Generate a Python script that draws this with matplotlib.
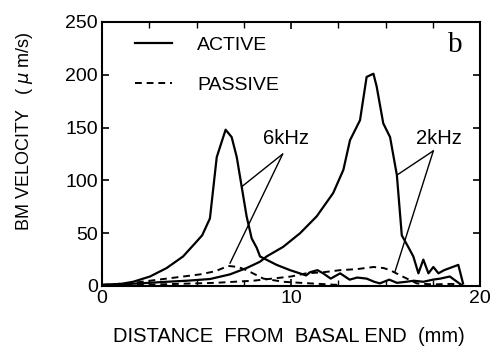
import numpy as np
import matplotlib
matplotlib.use("Agg")
import matplotlib.pyplot as plt

plt.rcParams['font.family'] = ['Liberation Sans', 'DejaVu Sans']

# 6 kHz, active
a6_x = [0, 1, 1.65, 2.54, 3.42, 4.29, 4.9, 5.3, 5.71, 6.07, 6.54, 6.86, 7.13, 7.39, 7.65, 7.92, 8.19, 8.36,
        9.24, 9.95, 10.8, 11.0, 11.4, 11.7, 12.1, 12.4, 12.6, 13.1, 13.5, 14.0, 14.4, 14.7, 15.2, 15.6,
        16.1, 16.5, 17.0, 17.5, 17.9, 18.4, 18.9, 19.1]
a6_v = [1, 2, 4, 9, 17, 28, 40, 48, 64, 122, 148, 141, 122, 94, 66, 45, 36, 28,
        20, 15, 10, 13, 15, 12, 7, 10, 12, 6, 8, 7, 4, 2.5, 6, 3,
        4, 5, 4, 6, 7, 9, 2.5, 0]

# 2 kHz, active
a2_x = [0, 1, 2, 3.42, 4.5, 5.71, 6.77, 7.65, 8.36, 8.71, 9.58, 10.48, 11.36, 12.23, 12.77, 13.12, 13.65,
        14.0, 14.36, 14.53, 14.88, 15.24, 15.6, 15.86, 16.2, 16.47, 16.74, 17.0, 17.27, 17.53, 17.8,
        18.1, 18.4, 18.85, 19.1]
a2_v = [1, 1.5, 2.5, 4, 5, 6.6, 11, 17, 23, 28, 37, 50, 66, 88, 110, 138, 157,
        198, 201, 189, 154, 141, 105, 48, 37, 28, 12, 25, 12, 18, 12,
        15, 17, 20, 2.5]

# 6 kHz, passive
p6_x = [0, 1.65, 3.42, 5.19, 6.0, 6.68, 7.2, 7.65, 8.54, 9.6, 10.5, 11.5, 12.5]
p6_v = [1, 3, 7, 11, 14, 19, 18, 15, 7, 4, 3, 2, 1]

# 2 kHz, passive
p2_x = [0, 2, 4, 6, 8, 9, 10, 10.8, 11.7, 12.6, 13.5, 14.36, 14.9, 15.24, 15.9, 16.65, 17.5, 18.5, 19.1]
p2_v = [0.5, 1, 2, 3, 5, 7, 9, 12, 13, 15, 16, 18, 17, 15, 9, 2.5, 1.5, 2, 1]

fig = plt.figure(figsize=(4.99, 3.52), dpi=100)
ax = fig.add_axes([0.2044, 0.1875, 0.7576, 0.75])

ax.plot(a6_x, a6_v, 'k-', lw=1.6, label='ACTIVE')
ax.plot(a2_x, a2_v, 'k-', lw=1.6)
ax.plot(p6_x, p6_v, 'k--', lw=1.4, dashes=(3.5, 2.5), label='PASSIVE')
ax.plot(p2_x, p2_v, 'k--', lw=1.4, dashes=(3.5, 2.5))

# labels with pointer lines
ax.text(9.76, 140, '6kHz', fontsize=14.5, ha='center', va='center')
for px, pv in [(7.39, 94), (6.77, 21.5)]:
    ax.annotate('', xy=(px, pv), xytext=(9.56, 125),
                arrowprops=dict(arrowstyle='-', lw=1.0, color='k', shrinkA=0, shrinkB=0))
ax.text(17.8, 140, '2kHz', fontsize=14.5, ha='center', va='center')
for px, pv in [(15.6, 105), (15.5, 13.5)]:
    ax.annotate('', xy=(px, pv), xytext=(17.53, 128),
                arrowprops=dict(arrowstyle='-', lw=1.0, color='k', shrinkA=0, shrinkB=0))

ax.text(18.7, 228, 'b', fontsize=21, family=['Liberation Serif', 'DejaVu Serif'], ha='center', va='center')

ax.legend(loc='upper left', frameon=False, fontsize=14, handlelength=1.9, handletextpad=1.3,
          labelspacing=1.15, borderpad=0, borderaxespad=0, bbox_to_anchor=(0.087, 0.945))

ax.set_xlim(0, 20)
ax.set_ylim(0, 250)
ax.set_xticks([0, 10, 20])
ax.set_xticks(np.arange(0, 20.1, 2.5), minor=True)
ax.set_yticks(np.arange(0, 251, 50))
ax.tick_params(direction='in', top=True, right=True, labelsize=14, length=5, width=1.2, pad=3)
ax.tick_params(which='minor', direction='in', top=True, bottom=True, length=4, width=1.0)
for s in ax.spines.values():
    s.set_linewidth(1.5)

fig.text(289 / 499, 1 - 337 / 352, 'DISTANCE  FROM  BASAL END  (mm)', fontsize=14.5, ha='center', va='center')
fig.text(25 / 499, 1 - 131 / 352, 'BM VELOCITY   ( $\\mu$ m/s)', fontsize=13, rotation=90,
         ha='center', va='center')

fig.savefig('out.png', dpi=100)
